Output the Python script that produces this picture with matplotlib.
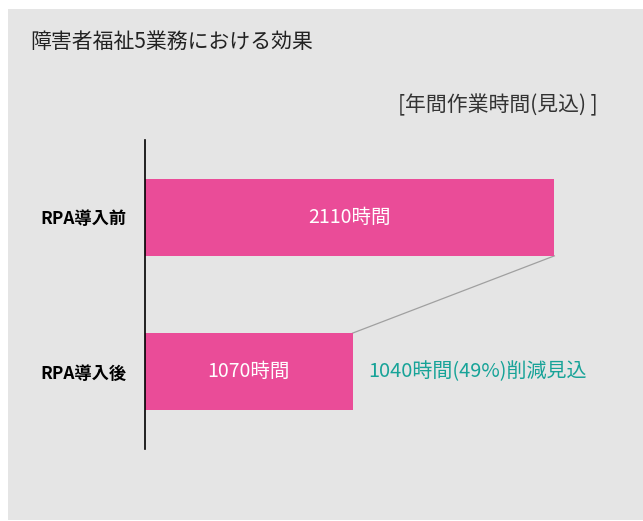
import matplotlib.pyplot as plt
from matplotlib.patches import Rectangle

plt.rcParams['font.family'] = ['Noto Sans CJK JP', 'DejaVu Sans']

# 年間作業時間（見込）
categories = ["RPA導入後", "RPA導入前"]
hours = [1070, 2110]
bar_labels = ["1070時間", "2110時間"]
reduction_label = "1040時間(49%)削減見込"

pink = "#EA4C98"
teal = "#17A398"
panel = "#E5E5E5"

fig = plt.figure(figsize=(6.43, 5.21), dpi=100, facecolor="white")
W, H = 643, 521

# 背景パネル
fig.patches.append(Rectangle((8 / W, 1 / H), 1 - 8 / W, (521 - 10) / H,
                             transform=fig.transFigure, facecolor=panel,
                             edgecolor="none", zorder=0))

ax = fig.add_axes([145 / W, (H - 449) / H, 485 / W, 309 / H])
ax.set_zorder(2)
ax.set_facecolor("none")
ax.set_xlim(0, 2500)
ax.set_ylim(-0.5, 1.5)

ypos = list(range(len(categories)))
ax.barh(ypos, hours, height=0.5, color=pink, zorder=2)

for y, v, lab in zip(ypos, hours, bar_labels):
    ax.text(v / 2, y, lab, color="white", fontsize=14, ha="center", va="center")

# 導入前→導入後の接続線
ax.plot([hours[1], hours[0]], [1 - 0.25, 0 + 0.25], color="#A0A0A0", lw=0.9, zorder=1)

ax.text(hours[0] + 80, 0, reduction_label, color=teal, fontsize=14.4,
        ha="left", va="center")

ax.set_yticks(ypos)
ax.set_yticklabels(categories, fontsize=12.4, fontweight="bold")
ax.tick_params(axis="y", length=0, pad=13)
ax.set_xticks([])
for s in ["top", "right", "bottom"]:
    ax.spines[s].set_visible(False)
ax.spines["left"].set_linewidth(1.2)
ax.spines["left"].set_color("black")

fig.text(30 / W, 1 - 42 / H, "障害者福祉5業務における効果", fontsize=15,
         ha="left", va="center", color="#222222", zorder=3)
fig.text(598 / W, 1 - 105 / H, "[年間作業時間(見込) ]", fontsize=15,
         ha="right", va="center", color="#333333", zorder=3)

fig.savefig("out.png", dpi=100, facecolor="white")
